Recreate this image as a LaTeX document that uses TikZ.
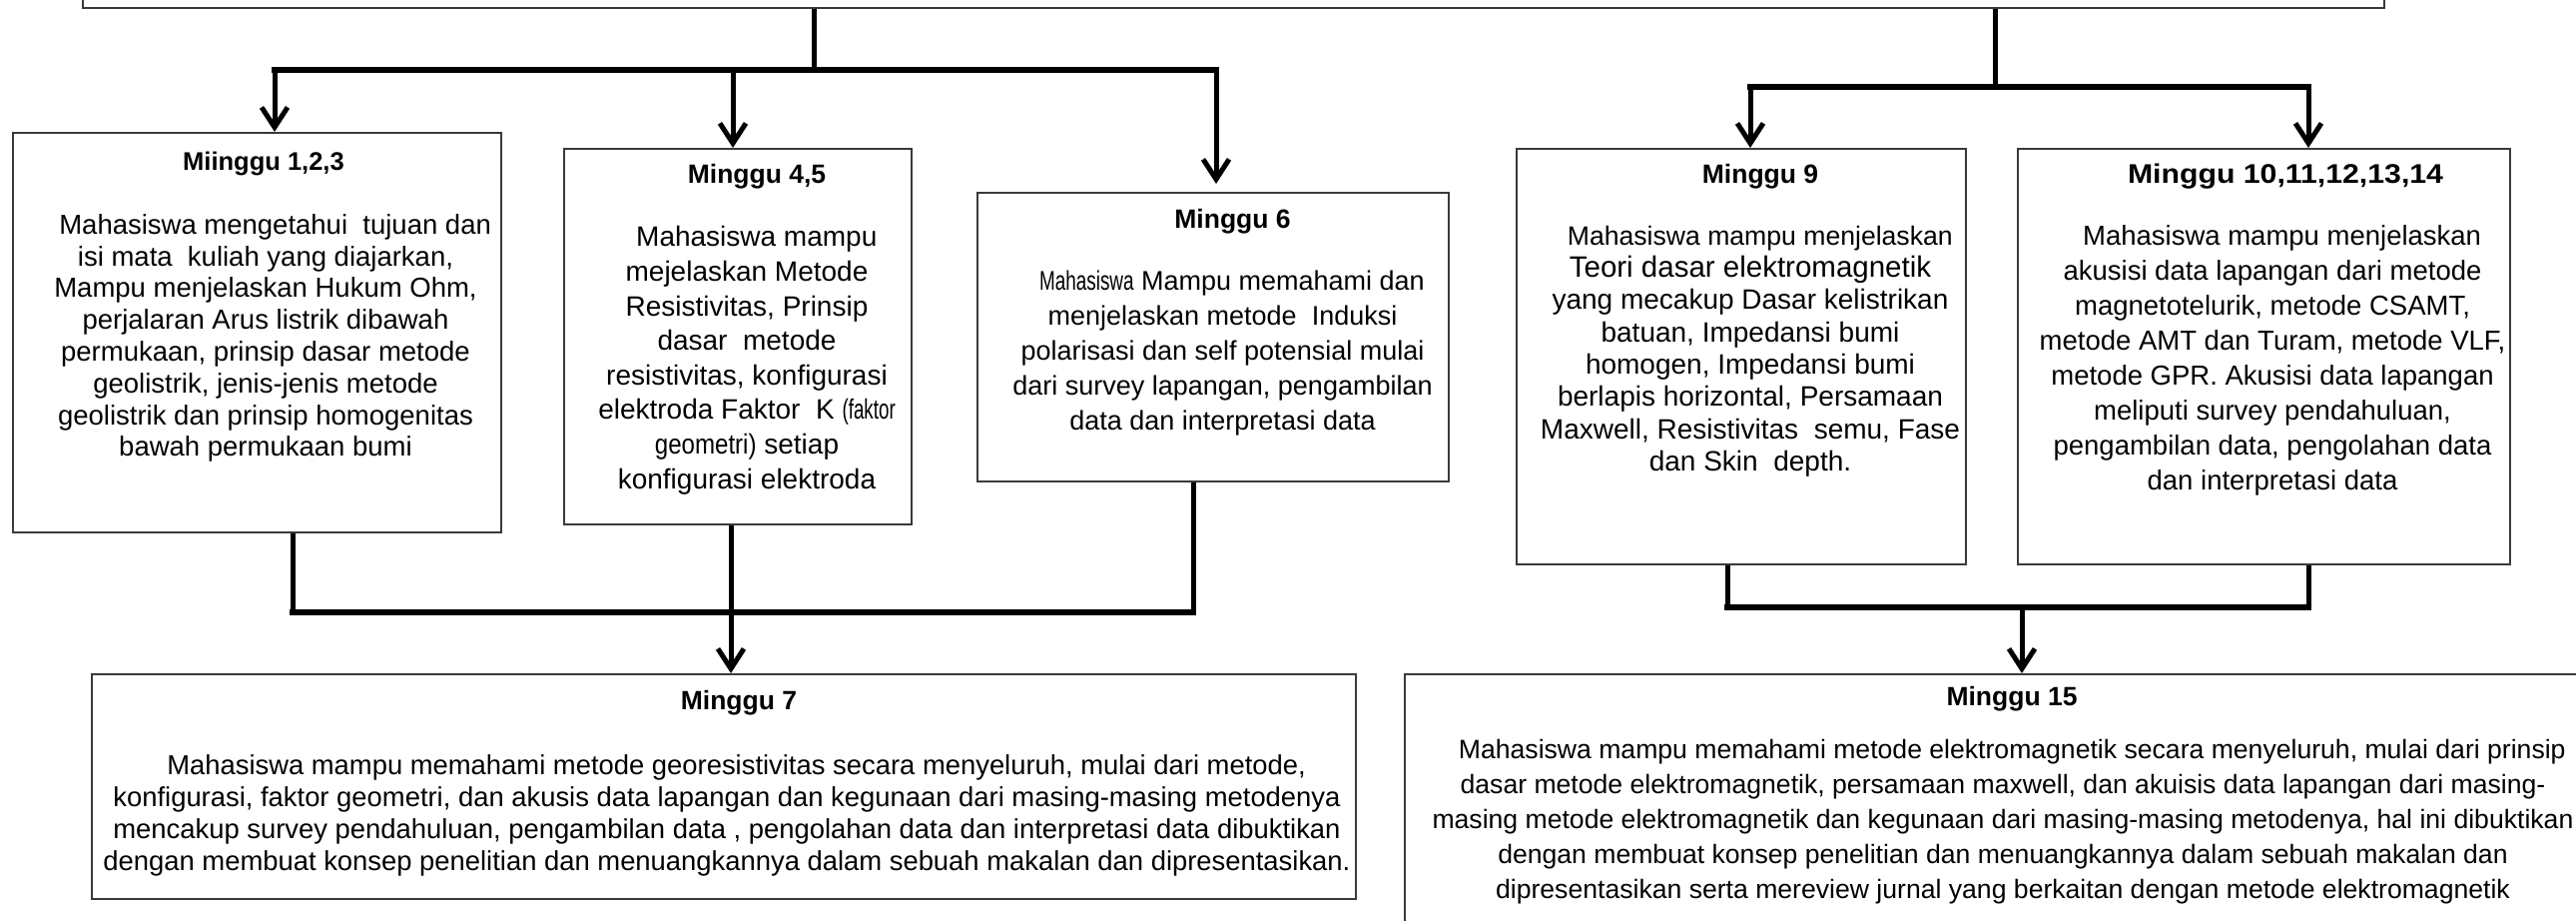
\documentclass[tikz,border=0pt]{standalone}
\usepackage{fontspec}
\setmainfont{Liberation Sans}
\usepackage{graphicx}
\usetikzlibrary{arrows.meta}
\definecolor{boxgray}{HTML}{3A3A3A}
\newcommand{\fl}{\rule{0pt}{22pt}\hspace*{0.7em}}
\newcommand{\narrowtxt}[2]{\scalebox{#1}[1]{#2}}
\begin{document}
\begin{tikzpicture}[x=1pt,y=-1pt,
  box/.style={draw=boxgray, line width=2pt, fill=white, inner sep=0pt, rectangle},
  ttl/.style={font=\fontsize{26.5}{30}\selectfont\bfseries, anchor=base, inner sep=0pt},
  body/.style={align=center, anchor=north, inner sep=0pt},
  vline/.style={line width=5pt},
  hbar/.style={line width=6.5pt, line cap=rect},
  arr/.style={line width=5pt, -{Straight Barb[length=20pt,width=26pt]}},
]
\useasboundingbox (0,0) rectangle (2580,921);

% ---------- boxes ----------
\node[box, minimum width=2305, minimum height=60] (top) at (1235.5,-22) {};
\node[box, minimum width=489, minimum height=400] (b1) at (257.2,333) {};
\node[box, minimum width=348, minimum height=376] (b2) at (739,337) {};
\node[box, minimum width=472, minimum height=289] (b3) at (1215,337.5) {};
\node[box, minimum width=450, minimum height=416] (b4) at (1744,357) {};
\node[box, minimum width=493, minimum height=416] (b5) at (2267.5,357) {};
\node[box, minimum width=1266, minimum height=225] (b7) at (725,787.5) {};
\node[box, minimum width=1188, minimum height=285] (b15) at (2001,817.5) {};

% ---------- junction coordinates ----------
\coordinate (lt) at (815,70);
\coordinate (a1) at (275,70);
\coordinate (a2) at (734,70);
\coordinate (a3) at (1218,70);
\coordinate (rt) at (1998,87);
\coordinate (a4) at (1753,87);
\coordinate (a5) at (2312,87);
\coordinate (c1) at (293,613);
\coordinate (c2) at (732,613);
\coordinate (c3) at (1195,613);
\coordinate (d1) at (1730,608);
\coordinate (d2) at (2312,608);
\coordinate (d3) at (2025,608);

% ---------- connectors ----------
\draw[vline] (top.south -| lt) -- (lt);
\draw[hbar] (a1) -- (a3);
\draw[arr] (a1) -- (a1 |- b1.north);
\draw[arr] (a2) -- (a2 |- b2.north);
\draw[arr] (a3) -- ([yshift=8pt]a3 |- b3.north);

\draw[vline] (top.south -| rt) -- (rt);
\draw[hbar] (a4) -- (a5);
\draw[arr] (a4) -- (a4 |- b4.north);
\draw[arr] (a5) -- (a5 |- b5.north);

\draw[vline] (c1 |- b1.south) -- (c1);
\draw[vline] (c2 |- b2.south) -- (c2);
\draw[vline] (c3 |- b3.south) -- (c3);
\draw[hbar] (c1) -- (c3);
\draw[arr] (c2) -- (c2 |- b7.north);

\draw[vline] (d1 |- b4.south) -- (d1);
\draw[vline] (d2 |- b5.south) -- (d2);
\draw[hbar] (d1) -- (d2);
\draw[arr] (d3) -- (d3 |- b15.north);

% ---------- texts ----------
\node[ttl, font=\fontsize{25.5}{30}\selectfont\bfseries] (t1) at (264,170) {Miinggu 1,2,3};
\node[body, font=\fontsize{27.5}{31.8}\selectfont] (x1) at (266,212) {\fl Mahasiswa mengetahui\ \ tujuan dan\\
isi mata\ \ kuliah yang diajarkan,\\
Mampu menjelaskan Hukum Ohm,\\
perjalaran Arus listrik dibawah\\
permukaan, prinsip dasar metode\\
geolistrik, jenis-jenis metode\\
geolistrik dan prinsip homogenitas\\
bawah permukaan bumi};

\node[ttl] (t2) at (758,183) {Minggu 4,5};
\node[body, font=\fontsize{28}{34.6}\selectfont] (x2) at (748,224.7) {\fl Mahasiswa mampu\\
mejelaskan Metode\\
Resistivitas, Prinsip\\
dasar\ \ metode\\
resistivitas, konfigurasi\\
elektroda Faktor\ \ K \narrowtxt{0.67}{(faktor}\\
\narrowtxt{0.86}{geometri)} setiap\\
konfigurasi elektroda};

\node[ttl] (t3) at (1234.5,228) {Minggu 6};
\node[body, font=\fontsize{27}{35}\selectfont] (x3) at (1224.5,268) {\fl\narrowtxt{0.7}{Mahasiswa} Mampu memahami dan\\
menjelaskan metode\ \ Induksi\\
polarisasi dan self potensial mulai\\
dari survey lapangan, pengambilan\\
data dan interpretasi data};

\node[ttl] (t4) at (1763,183) {Minggu 9};
\node[body, font=\fontsize{28}{32.3}\selectfont] (x4) at (1753,223) {\fl{\fontsize{26.6}{32.3}\selectfont Mahasiswa mampu menjelaskan}\\
{\fontsize{29.5}{32.3}\selectfont Teori dasar elektromagnetik}\\
yang mecakup Dasar kelistrikan\\
batuan, Impedansi bumi\\
homogen, Impedansi bumi\\
berlapis horizontal, Persamaan\\
Maxwell, Resistivitas\ \ semu, Fase\\
dan Skin\ \ depth.};

\node[ttl, font=\fontsize{27}{30}\selectfont\bfseries] (t5) at (2289,183) {\scalebox{1.12}[1]{Minggu 10,11,12,13,14}};
\node[body, font=\fontsize{27.5}{35}\selectfont] (x5) at (2276,223) {\fl Mahasiswa mampu menjelaskan\\
akusisi data lapangan dari metode\\
magnetotelurik, metode CSAMT,\\
metode AMT dan Turam, metode VLF,\\
metode GPR. Akusisi data lapangan\\
meliputi survey pendahuluan,\\
pengambilan data, pengolahan data\\
dan interpretasi data};

\node[ttl] (t7) at (740,710) {Minggu 7};
\node[body, font=\fontsize{27.4}{32}\selectfont] (x7) at (728,753) {\fl Mahasiswa mampu memahami metode georesistivitas secara menyeluruh, mulai dari metode,\\
konfigurasi, faktor geometri, dan akusis data lapangan dan kegunaan dari masing-masing metodenya\\
mencakup survey pendahuluan, pengambilan data , pengolahan data dan interpretasi data dibuktikan\\
dengan membuat konsep penelitian dan menuangkannya dalam sebuah makalan dan dipresentasikan.};

\node[ttl] (t15) at (2015,706) {Minggu 15};
\node[body, font=\fontsize{26.6}{35}\selectfont] (x15) at (2006,737) {\fl Mahasiswa mampu memahami metode elektromagnetik secara menyeluruh, mulai dari prinsip\\
dasar metode elektromagnetik, persamaan maxwell, dan akuisis data lapangan dari masing-\\
masing metode elektromagnetik dan kegunaan dari masing-masing metodenya, hal ini dibuktikan\\
dengan membuat konsep penelitian dan menuangkannya dalam sebuah makalan dan\\
dipresentasikan serta mereview jurnal yang berkaitan dengan metode elektromagnetik};
\end{tikzpicture}
\end{document}
